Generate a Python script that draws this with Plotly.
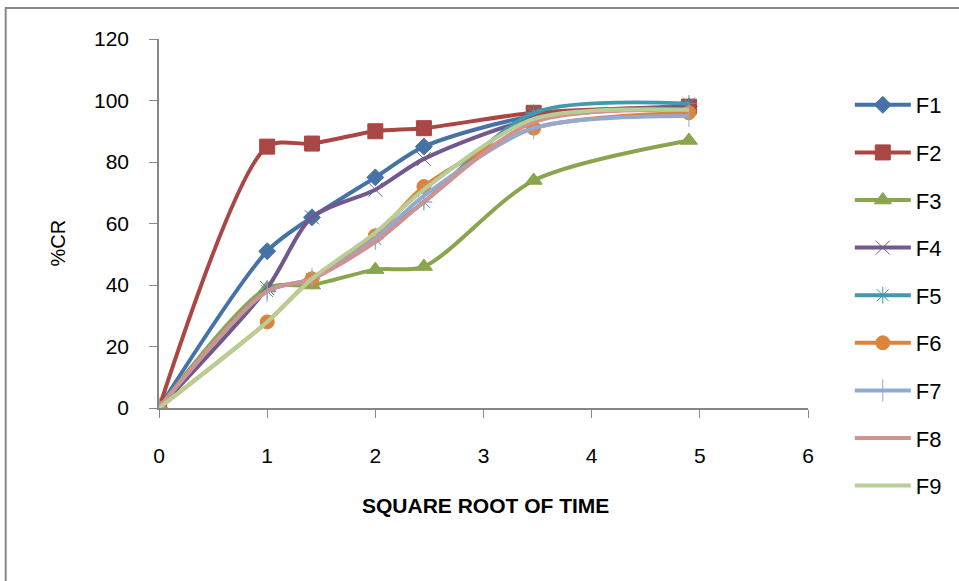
import plotly.graph_objects as go

# Square root of sampling time
sqrt_time = [0, 1, 1.414, 2, 2.449, 3.464, 4.899]

# Cumulative release (%) per formulation
F1 = [0, 51, 62, 75, 85, 95, 98]
F2 = [0, 85, 86, 90, 91, 96, 98]
F3 = [0, 39, 40, 45, 46, 74, 87]
F4 = [0, 39, 62, 71, 81, 94, 98]
F5 = [0, 38, 42, 55, 67, 96, 99]
F6 = [0, 28, 42, 56, 72, 91, 96]
F7 = [0, 38, 42, 55, 69, 91, 95]
F8 = [0, 38, 42, 54, 67, 93, 97]
F9 = [0, 28, 42, 57, 71, 94, 97]

names = ["F1", "F2", "F3", "F4", "F5", "F6", "F7", "F8", "F9"]
series = [F1, F2, F3, F4, F5, F6, F7, F8, F9]
colors = ["#4572A7", "#AA4643", "#89A54E", "#71588F", "#4198AF",
          "#DB843D", "#93A9CF", "#D19392", "#B9CD96"]
symbols = ["diamond", "square", "triangle-up", "x-thin-open", "asterisk-open",
           "circle", "line-ns-open", None, None]
sizes = [13, 15, 15, 14, 14, 14, 16, 0, 0]

fig = go.Figure()
for name, ys, col, sym, sz in zip(names, series, colors, symbols, sizes):
    marker = dict(color=col, size=sz, line=dict(color=col, width=1))
    mode = "lines+markers" if sym else "lines"
    if sym:
        marker["symbol"] = sym
    fig.add_trace(go.Scatter(
        x=sqrt_time, y=ys, name=name, mode=mode,
        line=dict(color=col, width=4, shape="spline", smoothing=0.8),
        marker=marker, legendgroup=name,
    ))

axis_font = dict(family="Liberation Sans", size=21, color="#000")

fig.update_layout(
    width=959, height=581,
    margin=dict(l=159, r=148, t=39, b=173),
    plot_bgcolor="white", paper_bgcolor="white",
    showlegend=True,
    legend=dict(
        x=1.0644, y=0.878, xanchor="left", yanchor="top",
        font=dict(family="Liberation Sans", size=22, color="#000"),
        traceorder="grouped", tracegroupgap=16,
        bgcolor="rgba(0,0,0,0)", itemwidth=56, maxheight=560,
    ),
    xaxis=dict(
        range=[0, 6], tickvals=[0, 1, 2, 3, 4, 5, 6],
        showgrid=False, zeroline=False,
        showline=True, linecolor="#868686", linewidth=1.5,
        ticks="outside", ticklen=8, tickcolor="#868686",
        tickfont=axis_font, ticklabelstandoff=20,
    ),
    yaxis=dict(
        range=[0, 120], tickvals=[0, 20, 40, 60, 80, 100, 120],
        showgrid=False, zeroline=False,
        showline=True, linecolor="#868686", linewidth=1.5,
        ticks="outside", ticklen=8, tickcolor="#868686",
        tickfont=axis_font, ticklabelstandoff=16,
    ),
    annotations=[
        dict(text="<b>SQUARE ROOT OF TIME</b>", xref="paper", yref="paper",
             x=(487 - 159) / 652, y=(408 - 505) / 369, showarrow=False,
             xanchor="center", yanchor="middle",
             font=dict(family="Liberation Sans", size=21, color="#000")),
        dict(text="%CR", xref="paper", yref="paper",
             x=(58 - 159) / 652, y=(408 - 243) / 369, showarrow=False,
             xanchor="center", yanchor="middle", textangle=-90,
             font=dict(family="Liberation Sans", size=20, color="#000")),
    ],
    shapes=[dict(
        type="rect", xref="paper", yref="paper",
        x0=(5 - 159) / 652, x1=(975 - 159) / 652,
        y0=(408 - 620) / 369, y1=(408 - 8) / 369,
        line=dict(color="#888888", width=2), layer="below",
    )],
)

fig.write_html("out.html")
